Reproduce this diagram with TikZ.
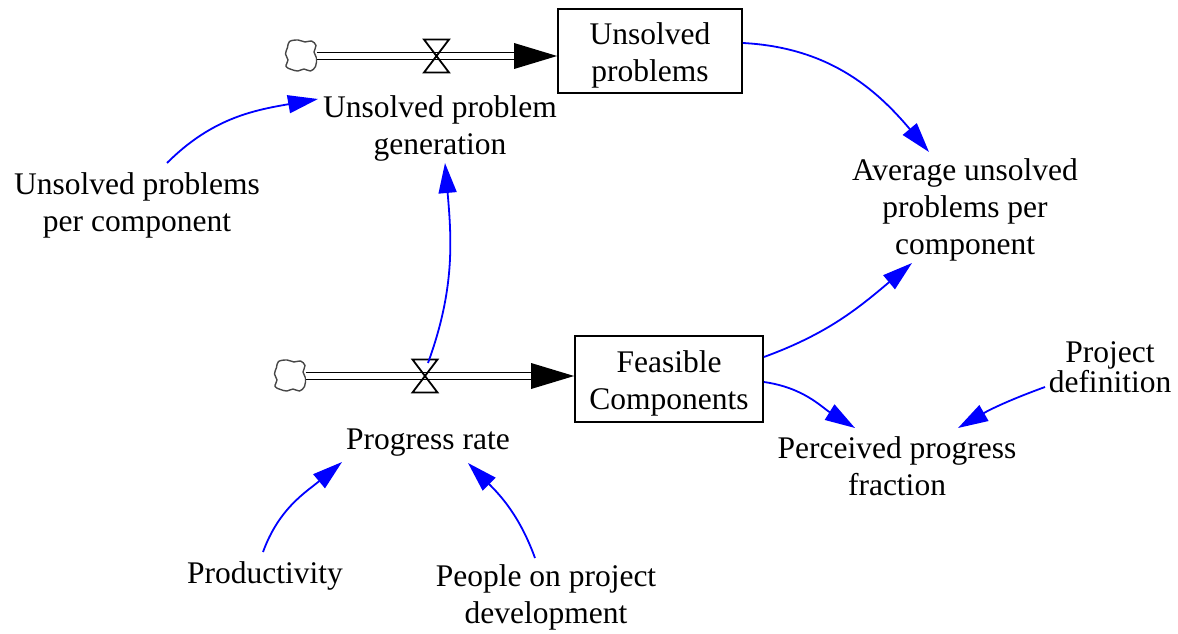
\documentclass[tikz,border=0pt]{standalone}
\usepackage{fontspec}
\setmainfont{Liberation Serif}
\usetikzlibrary{arrows.meta,calc}

\begin{document}
\begin{tikzpicture}[x=1pt,y=1pt,
  txt/.style={font=\fontsize{31.5}{37}\selectfont, align=center, inner sep=2pt},
  stock/.style={txt, draw, line width=1.8pt},
  link/.style={draw=blue, line width=1.8pt, -{Triangle[length=30pt,width=18pt]}},
  pipe/.style={draw, line width=1.7pt, double=white, double distance=5.3pt},
  source/.style={minimum width=31pt, minimum height=30pt, inner sep=0pt},
  cloudline/.style={draw=black!72, line width=1.4pt},
  valveline/.style={draw, line width=1.8pt},
]
\useasboundingbox (0,0) rectangle (1178,633);

% stocks
\node[stock, minimum width=184pt, minimum height=84pt] (UP) at (650,582)
  {\raisebox{-5pt}[\height][\depth]{\begin{tabular}{@{}c@{}}Unsolved\\problems\end{tabular}}};
\node[stock, minimum width=188pt, minimum height=86pt] (FC) at (669,254)
  {\raisebox{-5pt}[\height][\depth]{\begin{tabular}{@{}c@{}}Feasible\\Components\end{tabular}}};

% sources (clouds)
\node[source] (c1) at (301,577) {};
\node[source] (c2) at (290,257) {};
\foreach \c in {c1,c2}
  \draw[cloudline, shift={(\c)}] plot[smooth cycle, tension=0.6] coordinates
    {(-11.5,14.5) (-3,16) (4,14) (10.5,15) (15,10.5) (13,4) (15.5,-2) (14.5,-10.5)
     (9.5,-15) (3,-13) (-3,-15) (-9.5,-13.5) (-15,-10.5) (-13,-4) (-15.5,2) (-13.5,8.5)};

% valves
\coordinate (v1) at (436.5,577);
\coordinate (v2) at (425,257);
\coordinate (t1) at (UP.west |- v1);
\coordinate (t2) at (FC.west |- v2);

% flows
\draw[pipe] (c1.east) -- ($(t1)+(-43,0)$);
\fill (t1) -- ++(-43,13) -- ++(0,-26) -- cycle;
\draw[pipe] (c2.east) -- ($(t2)+(-43,0)$);
\fill (t2) -- ++(-43,13) -- ++(0,-26) -- cycle;

\foreach \v in {v1,v2}
  \draw[valveline] ($(\v)+(-12.5,16.5)$) -- ($(\v)+(12.5,16.5)$)
    -- ($(\v)+(-12.5,-16.5)$) -- ($(\v)+(12.5,-16.5)$) -- cycle;

% auxiliary variables
\node[txt] (gen) at (440,505) {Unsolved problem\\generation};
\node[txt] (upc) at (137,428) {Unsolved problems\\per component};
\node[txt] (avg) at (965,423) {Average unsolved\\problems per\\component};
\node[txt] (prog) at (428,190) {Progress rate};
\node[txt] (ppf) at (897,167) {Perceived progress\\fraction};
\node[txt, font=\fontsize{31.5}{30}\selectfont] (pd) at (1110,266) {Project\\definition};
\node[txt] (prod) at (265,57) {Productivity};
\node[txt] (ppl) at (546,36) {People on project\\development};

% causal links
\draw[link] ($(upc)+(30,42)$) to[out=45,in=190] ($(gen)+(-122,29)$);
\draw[link] ($(UP.east)+(0,8)$) to[out=-3,in=130] ($(avg)+(-36,58)$);
\draw[link] ($(FC.east)+(0,22)$) to[out=20,in=220] ($(avg)+(-53,-53)$);
\draw[link] ($(FC.east)+(0,-3)$) to[out=-8,in=148] ($(ppf)+(-42,38)$);
\draw[link] ($(pd)+(-65,-20)$) to[out=200,in=30] ($(ppf)+(61,38)$);
\draw[link] ($(v2)+(3,13)$) to[out=70,in=-85] ($(gen)+(5,-35)$);
\draw[link] ($(prod)+(-2,24)$) to[out=70,in=220] ($(prog)+(-86,-19)$);
\draw[link] ($(ppl)+(-11,39)$) to[out=110,in=-45] ($(prog)+(40,-20)$);
\end{tikzpicture}
\end{document}
